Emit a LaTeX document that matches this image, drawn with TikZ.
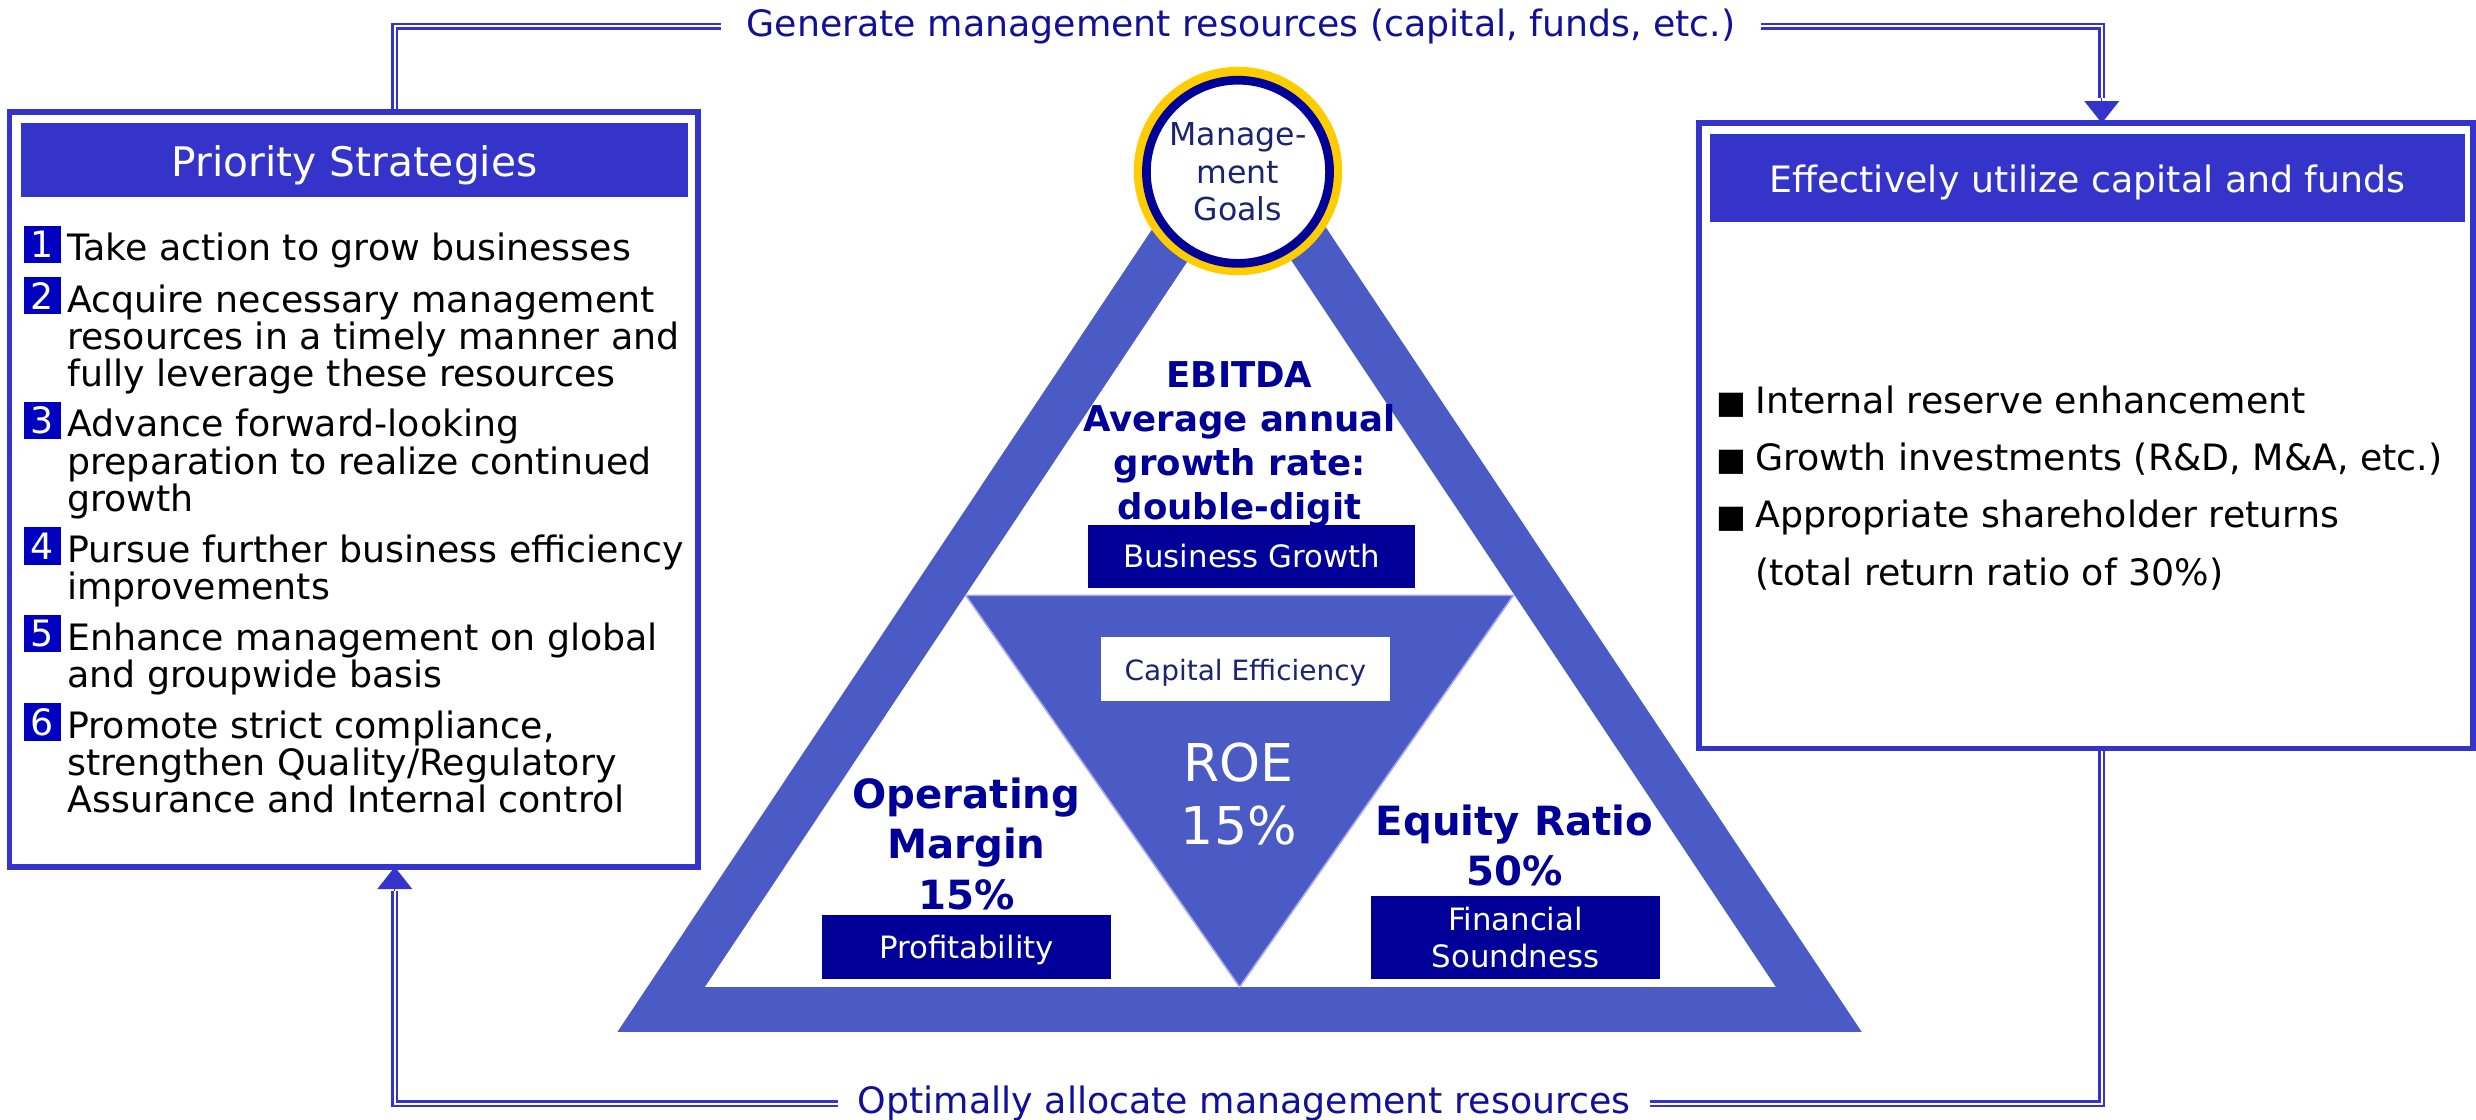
\documentclass[tikz,border=0pt]{standalone}
\usepackage{fontspec}
\setmainfont{DejaVu Sans}
\usetikzlibrary{arrows.meta,calc,backgrounds}
\definecolor{frameblue}{HTML}{3434CA}
\definecolor{triblue}{HTML}{4B5BC5}
\definecolor{navy}{HTML}{000099}
\definecolor{badgeblue}{HTML}{0000C0}
\definecolor{gold}{HTML}{FFCC00}
\definecolor{lightedge}{HTML}{A3A8F0}
\definecolor{textnavy}{HTML}{1A2470}
\definecolor{linklabel}{HTML}{10109A}
\newcommand{\fs}[2]{\fontsize{#1}{#2}\selectfont}
\newcommand{\sq}{{\fs{20}{20}■}\hspace{5.5pt}}
\begin{document}
\begin{tikzpicture}[x=1pt,y=-1pt,
  dbl/.style={draw=frameblue,line width=1.5pt,double=white,double distance=1.4pt},
  tipline/.style={draw=frameblue,line width=0.6pt,-{Triangle[width=22pt,length=14pt,fill=frameblue]}},
  bigbox/.style={draw=frameblue,line width=3.6pt,fill=white,inner sep=0pt,outer sep=0pt,anchor=north west},
  headbox/.style={fill=frameblue,text=white,inner sep=0pt,outer sep=0pt,anchor=north west,text depth=0pt},
  lblbox/.style={fill=navy,text=white,inner sep=0pt,anchor=north west,font=\fs{19.5}{23.5}},
  badge/.style={fill=badgeblue,text=white,inner sep=0pt,minimum width=23.5pt,minimum height=23.5pt,font=\fs{23}{23}},
  item/.style={anchor=north west,inner sep=0pt,align=left,font=\fs{23}{23.5}},
  linklbl/.style={font=\fs{23}{23},text=linklabel,inner sep=0pt,minimum height=20pt},
  bignum/.style={anchor=north,inner sep=0pt,align=center,text=navy}
]
\useasboundingbox (0,0) rectangle (1568,709);

% ---------- left box ----------
\node[bigbox,minimum width=436pt,minimum height=478pt] (L) at (6,71) {};
\node[headbox,minimum width=423pt,minimum height=47pt,text height=20pt,font=\fs{25.8}{26}] (LH) at (13,78) {Priority Strategies};

\node[badge] (b1) at (26.8,154.75) {1};
\node[badge] (b2) at (26.8,187.25) {2};
\node[badge] (b3) at (26.8,266.25) {3};
\node[badge] (b4) at (26.8,345.75) {4};
\node[badge] (b5) at (26.8,401.25) {5};
\node[badge] (b6) at (26.8,457.25) {6};

\node[item] (i1) at (42.5,147.5) {Take action to grow businesses};
\node[item] (i2) at (42.5,180) {Acquire necessary management\\resources in a timely manner and\\fully leverage these resources};
\node[item] (i3) at (42.5,259) {Advance forward-looking\\preparation to realize continued\\growth};
\node[item] (i4) at (42.5,338.5) {Pursue further business efficiency\\improvements};
\node[item] (i5) at (42.5,394) {Enhance management on global\\and groupwide basis};
\node[item] (i6) at (42.5,450) {Promote strict compliance,\\strengthen Quality/Regulatory\\Assurance and Internal control};

% ---------- right box ----------
\node[bigbox,minimum width=490pt,minimum height=396pt] (R) at (1076,78) {};
\node[headbox,minimum width=478pt,minimum height=55.5pt,text height=18.5pt,font=\fs{23}{23}] (RH) at (1083,85) {Effectively utilize capital and funds};
\node[anchor=north west,inner sep=0pt,align=left,font=\fs{23}{36.3}] (RB) at (1087,244) {\sq Internal reserve enhancement\\\sq Growth investments (R\&D, M\&A, etc.)\\\sq Appropriate shareholder returns\\\phantom{\sq}(total return ratio of 30\%)};

% ---------- triangle ----------
\fill[triblue] (391,653.5) -- (1179,653.5) -- (785,62) -- cycle;
\fill[white] (446.5,625) -- (1124.5,625) -- (785,116) -- cycle;
\filldraw[fill=triblue,draw=lightedge,line width=1pt] (611.6,377) -- (958.4,377) -- (785,625) -- cycle;

\node[circle,fill=gold,minimum size=132pt,inner sep=0pt] (gc) at (784,108.3) {};
\node[circle,draw=navy,line width=5.5pt,fill=white,minimum size=116pt,inner sep=0pt,align=center,text=textnavy,font=\fs{20}{24}] (mg) at (784,108.8) {Manage-\\ment\\Goals};

\node[bignum,font=\bfseries\fs{22.5}{28}] (eb) at (785,228.6) {EBITDA\\Average annual\\growth rate:\\double-digit};
\node[lblbox,minimum width=207pt,minimum height=40pt,text height=14pt,text depth=0pt] (bg) at (689,332) {Business Growth};

\node[fill=white,anchor=north west,inner sep=0pt,minimum width=183pt,minimum height=40.5pt,text=textnavy,font=\fs{17.7}{20},text height=14.5pt,text depth=0pt] (ce) at (697,403.5) {Capital Efficiency};
\node[anchor=north,inner sep=0pt,align=center,text=white,font=\fs{33}{40}] (roe) at (784.5,470.4) {ROE\\15\%};

\node[bignum,font=\bfseries\fs{25.5}{32}] (om) at (612,492.4) {Operating\\Margin\\15\%};
\node[lblbox,minimum width=182.5pt,minimum height=40.5pt,text height=15.5pt,text depth=0pt] (pf) at (520.6,579) {Profitability};

\node[bignum,font=\bfseries\fs{25.5}{32}] (er) at (959,509.4) {Equity Ratio\\50\%};
\node[lblbox,minimum width=183pt,minimum height=52pt,align=center] (fsn) at (868,567.5) {Financial\\Soundness};

% ---------- connectors ----------
\node[linklbl,minimum width=658pt] (G) at (786,16.5) {Generate management resources (capital, funds, etc.)};
\node[linklbl,minimum width=514pt] (O) at (788,699) {Optimally allocate management resources};

\coordinate (tl) at (250,0);
\coordinate (ab) at (1331,62);
\coordinate (bb) at (250,564);
\begin{scope}[on background layer]
\draw[dbl] (L.north -| tl) |- (G.west);
\draw[dbl] (G.east) -| (ab);
\draw[dbl] (O.west) -| (bb);
\draw[dbl] (O.east) -| (R.south -| ab);
\end{scope}
\draw[tipline] (ab) -- (ab |- R.north);
\draw[tipline] (bb) -- (bb |- L.south);
\end{tikzpicture}
\end{document}
